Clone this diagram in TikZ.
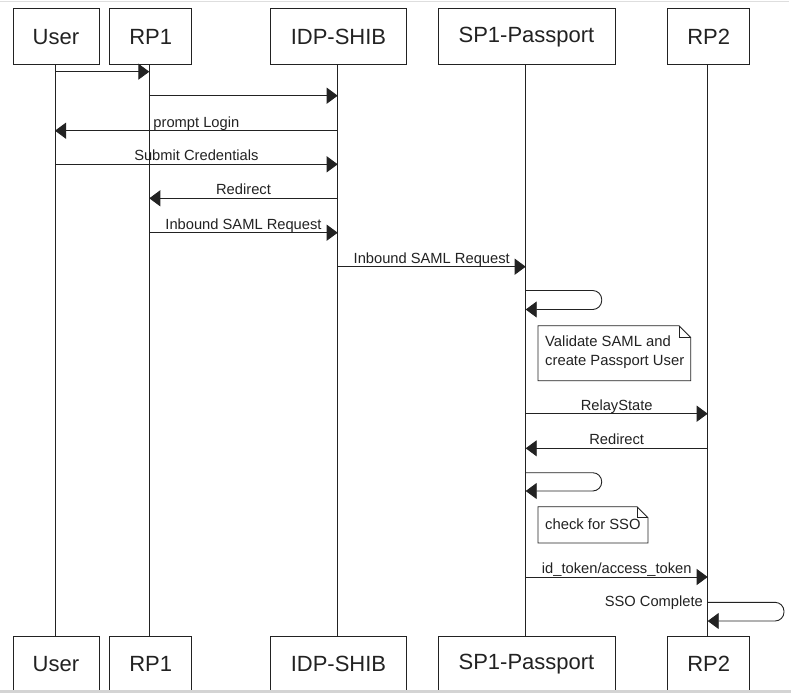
\documentclass[tikz,border=0pt]{standalone}
\usepackage{fontspec}
\setmainfont{Liberation Sans}
\usetikzlibrary{arrows.meta}
\definecolor{ink}{HTML}{222222}
\begin{document}
\begin{tikzpicture}[x=1pt,y=-1pt,
  actor/.style={draw=ink,line width=0.9pt,minimum height=56pt,inner sep=0pt,
    font=\fontsize{22}{26}\selectfont,text=ink,anchor=north west},
  life/.style={draw=ink,line width=0.9pt},
  msg/.style={draw=ink,line width=0.9pt,-{Triangle[length=11pt,width=16pt]}},
  loopmsg/.style={msg,rounded corners=9pt},
  lbl/.style={font=\fontsize{14.7}{17}\selectfont,text=ink,anchor=base,inner sep=0pt},
  notebox/.style={draw=ink,line width=0.9pt,fill=white},
  notetxt/.style={font=\fontsize{14.8}{19}\selectfont,text=ink,align=left,anchor=north west,inner sep=0pt}
]
\useasboundingbox (0,0) rectangle (791,693);
\fill[white] (0,0) rectangle (791,693);
% screenshot edges
\draw[color=black!13,line width=1.5pt] (0,1.5) -- (789,1.5);

% top actors
\node[actor,minimum width=86pt] (u1) at (12.5,8.3) {User};
\node[actor,minimum width=82pt] (r1) at (109.3,8.3) {RP1};
\node[actor,minimum width=136pt] (i1) at (270,8.3) {IDP-SHIB};
\node[actor,minimum width=177pt] (s1) at (437.5,8.3) {SP1-Passport};
\node[actor,minimum width=82pt] (p1) at (667.3,8.3) {RP2};
% bottom actors
\node[actor,minimum width=86pt] (u2) at (12.5,635.7) {User};
\node[actor,minimum width=82pt] (r2) at (109.3,635.7) {RP1};
\node[actor,minimum width=136pt] (i2) at (270,635.7) {IDP-SHIB};
\node[actor,minimum width=177pt] (s2) at (437.5,635.7) {SP1-Passport};
\node[actor,minimum width=82pt] (p2) at (667.3,635.7) {RP2};

\fill[color=black!17] (0,690) rectangle (791,693);

% lifelines
\coordinate (U) at (55,0);
\coordinate (R) at (149.3,0);
\coordinate (I) at (337.7,0);
\coordinate (S) at (525.7,0);
\coordinate (P) at (707.7,0);
\draw[life] (U |- u1.south) -- (U |- u2.north);
\draw[life] (R |- r1.south) -- (R |- r2.north);
\draw[life] (I |- i1.south) -- (I |- i2.north);
\draw[life] (S |- s1.south) -- (S |- s2.north);
\draw[life] (P |- p1.south) -- (P |- p2.north);

% messages
\draw[msg] (U |- 0,71.7) -- (R |- 0,71.7);
\draw[msg] (R |- 0,95.7) -- (I |- 0,95.7);
\draw[msg] (I |- 0,130.7) -- node[lbl,pos=0.5,yshift=3.6pt]{prompt Login} (U |- 0,130.7);
\draw[msg] (U |- 0,164.3) -- node[lbl,pos=0.5,yshift=3.6pt]{Submit Credentials} (I |- 0,164.3);
\draw[msg] (I |- 0,198.3) -- node[lbl,pos=0.5,yshift=3.6pt]{Redirect} (R |- 0,198.3);
\draw[msg] (R |- 0,232.7) -- node[lbl,pos=0.5,yshift=3.6pt]{Inbound SAML Request} (I |- 0,232.7);
\draw[msg] (I |- 0,266.7) -- node[lbl,pos=0.5,yshift=3.6pt]{Inbound SAML Request} (S |- 0,266.7);

% self loop 1
\draw[loopmsg] (S |- 0,290.5) -- (601.7,290.5) -- (601.7,309.5) -- (S |- 0,309.5);
% note 1
\draw[notebox] (538,325.7) -- (679,325.7) -- (690.7,337.4) -- (690.7,380.7) -- (538,380.7) -- cycle;
\draw[ink,line width=0.9pt] (679,325.7) -- (679,337.4) -- (690.7,337.4);
\node[notetxt] (n1) at (545,336) {Validate SAML and\\create Passport User};

\draw[msg] (S |- 0,413.7) -- node[lbl,pos=0.5,yshift=3.6pt]{RelayState} (P |- 0,413.7);
\draw[msg] (P |- 0,448.3) -- node[lbl,pos=0.5,yshift=3.6pt]{Redirect} (S |- 0,448.3);

% self loop 2
\draw[loopmsg] (S |- 0,472.7) -- (601.7,472.7) -- (601.7,491) -- (S |- 0,491);
% note 2
\draw[notebox] (538,506.7) -- (637,506.7) -- (648,517.7) -- (648,543) -- (538,543) -- cycle;
\draw[ink,line width=0.9pt] (637,506.7) -- (637,517.7) -- (648,517.7);
\node[notetxt] (n2) at (545,519) {check for SSO};

\draw[msg] (S |- 0,577) -- node[lbl,pos=0.5,yshift=3.6pt]{id\_token/access\_token} (P |- 0,577);

% self loop 3
\draw[loopmsg] (P |- 0,602.3) -- (784,602.3) -- (784,621) -- (P |- 0,621);
\node[lbl,anchor=east,inner sep=0pt] (sso) at (703,602.3) {SSO Complete};
\end{tikzpicture}
\end{document}
